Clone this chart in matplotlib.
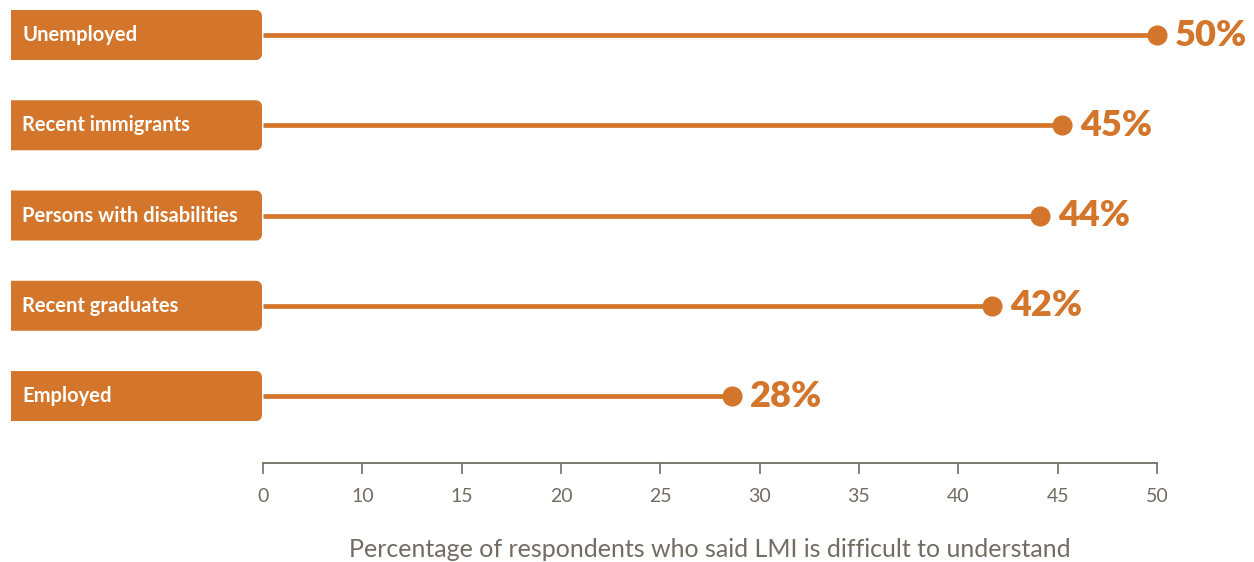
import numpy as np
import matplotlib.pyplot as plt
from matplotlib.patches import Polygon
from matplotlib.transforms import IdentityTransform

groups = ['Unemployed', 'Recent immigrants', 'Persons with disabilities',
          'Recent graduates', 'Employed']
values = [50, 45.2, 44.1, 41.7, 28.6]
value_labels = ['50%', '45%', '44%', '42%', '28%']
tick_pos = [5, 10, 15, 20, 25, 30, 35, 40, 45, 50]
tick_labels = ['0', '10', '15', '20', '25', '30', '35', '40', '45', '50']

orange = '#d3762b'
grey = '#726c62'
plt.rcParams['font.family'] = ['Lato', 'DejaVu Sans']

W, H = 1254, 562
fig = plt.figure(figsize=(W / 100, H / 100), dpi=100)
ax = fig.add_axes([263 / W, (H - 463) / H, (1157 - 263) / W, 463 / H])

y = np.arange(len(groups))
ax.set_xlim(5, 50)
ax.set_ylim(4.742, -0.388)

ax.hlines(y, 5, values, color=orange, lw=3.4, clip_on=False, zorder=2)
ax.plot(values, y, 'o', color=orange, ms=13.5, clip_on=False, zorder=3)
for v, yy, lab in zip(values, y, value_labels):
    ax.annotate(lab, (v, yy), xytext=(13, 0), textcoords='offset points',
                ha='left', va='center', color=orange, fontsize=26,
                fontweight='heavy', annotation_clip=False)


def label_box(x0, x1, yc, h, r):
    # square left side, rounded right corners (pixel coords)
    t = np.linspace(0, np.pi / 2, 10)
    top = yc + h / 2
    bot = yc - h / 2
    pts = [(x0, bot), (x1 - r, bot)]
    pts += [(x1 - r + r * np.sin(a), bot + r - r * np.cos(a)) for a in t]
    pts += [(x1 - r + r * np.cos(a), top - r + r * np.sin(a)) for a in t]
    pts += [(x0, top)]
    return pts


for yy, g in zip(y, groups):
    py = ax.transData.transform((5, yy))[1]
    fig.patches.append(Polygon(label_box(11, 262, py, 50, 6), closed=True,
                               fc=orange, ec='none', transform=IdentityTransform(),
                               figure=fig))
    fig.text(22 / W, py / H, g, color='white', fontsize=14.5, fontweight='bold',
             ha='left', va='center')

for s in ['top', 'right', 'left']:
    ax.spines[s].set_visible(False)
ax.spines['bottom'].set_color(grey)
ax.spines['bottom'].set_linewidth(1.3)
ax.set_yticks([])
ax.set_xticks(tick_pos)
ax.set_xticklabels(tick_labels)
ax.tick_params(axis='x', direction='out', length=8, width=1.2, color=grey,
               labelcolor=grey, labelsize=14, pad=10)
ax.set_xlabel('Percentage of respondents who said LMI is difficult to understand',
              color=grey, fontsize=18, labelpad=24)

fig.savefig('out.png', dpi=100)
